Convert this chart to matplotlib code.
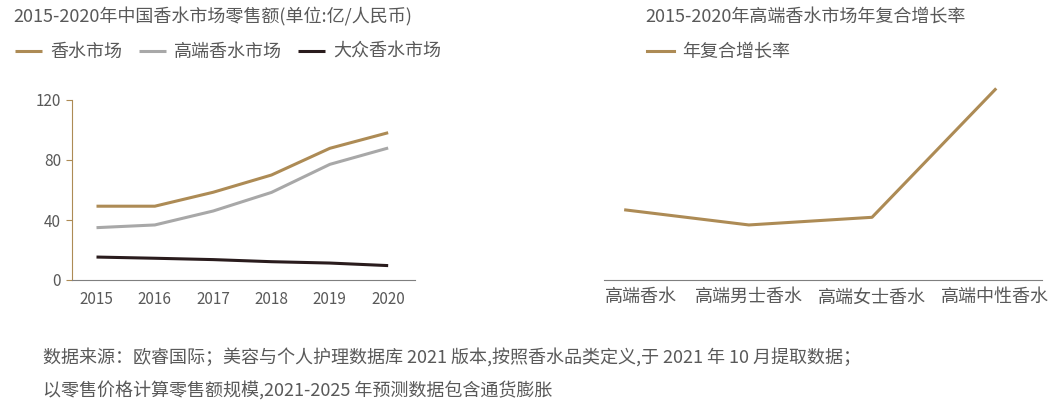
import matplotlib as mpl
import matplotlib.pyplot as plt
from matplotlib.transforms import ScaledTranslation

mpl.rcParams['font.family'] = ['Noto Sans CJK SC', 'DejaVu Sans']

# colours
GOLD = '#AD8B55'
GREY = '#A8A8A8'
DARK = '#2A1C1D'
TXT = '#595959'

# left chart data (亿/人民币)
years = [2015, 2016, 2017, 2018, 2019, 2020]
total = [49.2, 49.2, 58.5, 70.0, 87.8, 98.2]
premium = [34.9, 36.7, 46.0, 58.4, 77.1, 88.0]
mass = [15.3, 14.5, 13.6, 12.2, 11.3, 9.6]

# right chart data (年复合增长率)
cats = ['高端香水', '高端男士香水', '高端女士香水', '高端中性香水']
cagr = [4.67, 3.67, 4.18, 12.7]

W, H = 1053, 409
fig = plt.figure(figsize=[W/100., H/100.], dpi=100)

ax1 = fig.add_axes([72./W, 1-280./H, 343./W, 180./H])
ax1.plot(years, total, color=GOLD, lw=2.2, label='香水市场', solid_capstyle='butt')
ax1.plot(years, premium, color=GREY, lw=2.2, label='高端香水市场', solid_capstyle='butt')
ax1.plot(years, mass, color=DARK, lw=2.2, label='大众香水市场', solid_capstyle='butt')
ax1.set_xlim(2014.58, 2020.46)
ax1.set_ylim(0, 120)
ax1.set_yticks([0, 40, 80, 120])
ax1.set_xticks(years)
for s in ['top', 'right']:
    ax1.spines[s].set_visible(False)
ax1.spines['left'].set_color(GOLD)
ax1.spines['bottom'].set_color('#7F7F7F')
ax1.tick_params(axis='y', colors=GOLD, length=4, labelcolor=TXT, labelsize=11, pad=4)
ax1.tick_params(axis='x', length=0, labelcolor=TXT, labelsize=11, pad=8)

ax1.legend(loc='center left', bbox_to_anchor=(8./W, 1-52./H), bbox_transform=fig.transFigure,
           ncol=3, frameon=False, fontsize=13, labelcolor=TXT,
           handlelength=1.5, handletextpad=0.45, columnspacing=0.9, borderaxespad=0)

ax2 = fig.add_axes([604./W, 1-280./H, 438./W, 180./H])
x = range(len(cats))
ax2.plot(x, cagr, color=GOLD, lw=2.2, label='年复合增长率', clip_on=False)
ax2.set_xlim(-0.176, 3.38)
ax2.set_ylim(0, 12)
ax2.set_xticks(list(x))
ax2.set_xticklabels(cats)
ax2.set_yticks([])
for s in ['top', 'right', 'left']:
    ax2.spines[s].set_visible(False)
ax2.spines['bottom'].set_color('#7F7F7F')
ax2.tick_params(axis='x', length=0, labelcolor=TXT, labelsize=13, pad=6)
# first label sits a little right of its point in the original
lab0 = ax2.get_xticklabels()[0]
lab0.set_transform(lab0.get_transform() + ScaledTranslation(15/100., 0, fig.dpi_scale_trans))
ax2.legend(loc='center left', bbox_to_anchor=(640./W, 1-52./H), bbox_transform=fig.transFigure,
           frameon=False, fontsize=13, labelcolor=TXT,
           handlelength=1.5, handletextpad=0.45, borderaxespad=0)

fig.text(13./W, 1-17./H, '2015-2020年中国香水市场零售额(单位:亿/人民币)',
         fontsize=13, color=TXT, va='center', ha='left')
fig.text(645./W, 1-17./H, '2015-2020年高端香水市场年复合增长率',
         fontsize=13, color=TXT, va='center', ha='left')

fig.text(43./W, 1-358./H, '数据来源：欧睿国际；美容与个人护理数据库 2021 版本,按照香水品类定义,于 2021 年 10 月提取数据；',
         fontsize=13, color=TXT, va='center', ha='left')
fig.text(43./W, 1-390./H, '以零售价格计算零售额规模,2021-2025 年预测数据包含通货膨胀',
         fontsize=13, color=TXT, va='center', ha='left')

plt.savefig('out.png', dpi=100)
